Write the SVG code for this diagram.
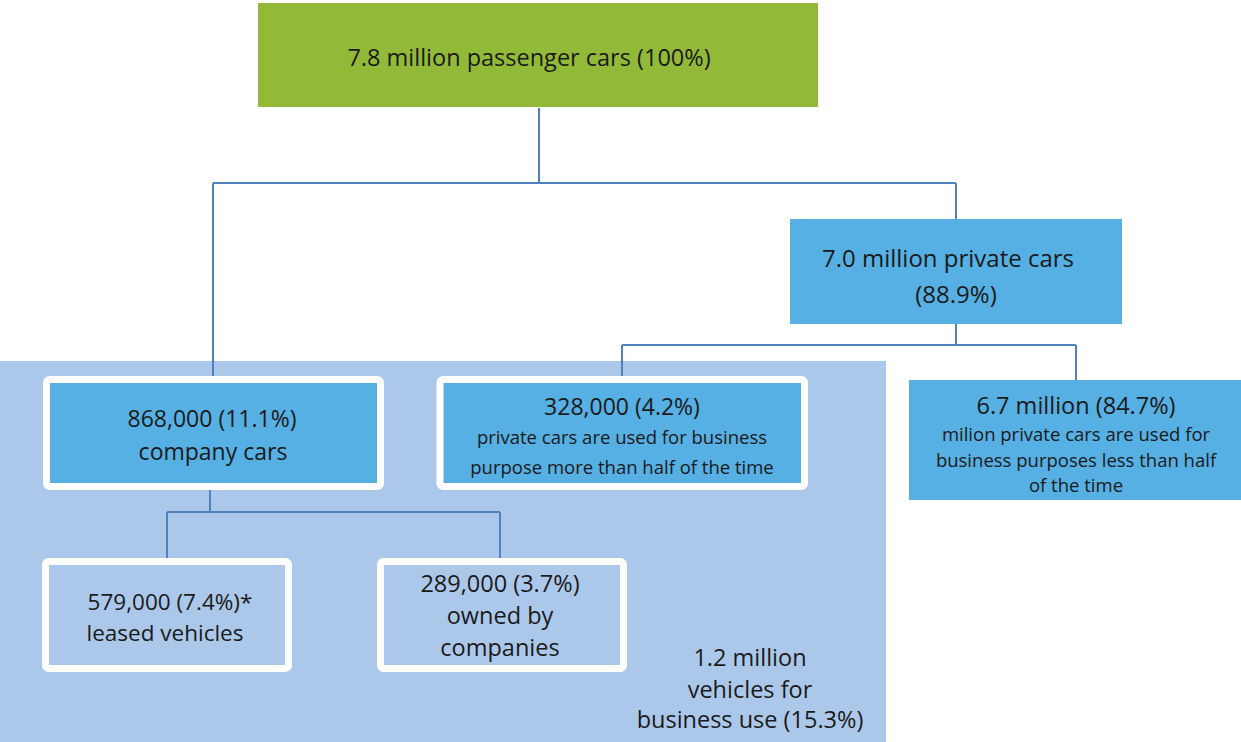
<svg xmlns="http://www.w3.org/2000/svg" width="1241" height="742" viewBox="0 0 1241 742">
<style>
text{font-family:"Open Sans","Liberation Sans",sans-serif;fill:#1a1a1a;text-anchor:middle;dominant-baseline:central}
.blue{fill:#56B0E3}
.wb{fill:#56B0E3;stroke:#ffffff;stroke-width:7;stroke-linejoin:round}
.wl{fill:#ABC8EA;stroke:#ffffff;stroke-width:7;stroke-linejoin:round}
.big{font-size:23px}
.sm{font-size:18.5px}
.cn{font-size:23.5px}
.conn{fill:none;stroke:#4F81BD;stroke-width:2}
</style>
<rect id="business-area" x="0" y="361" width="886" height="381" fill="#ABC8EA"/>
<g id="connectors" class="conn">
<path d="M539 108 V183 M213 183 H956 M213 183 V376 M956 183 V219"/>
<path d="M956 324 V345 M622 345 H1076 M622 345 V376 M1076 345 V380"/>
<path d="M210 490 V512 M167 512 H500 M167 512 V558 M500 512 V558"/>
</g>
<g id="passenger-cars">
<rect x="258" y="3" width="560" height="104" fill="#93B938"/>
<text x="529" y="57" style="font-size:23.5px">7.8 million passenger cars (100%)</text>
</g>
<g id="private-cars">
<rect class="blue" x="790" y="219" width="332" height="105"/>
<text x="948" y="257" style="font-size:24px">7.0 million private cars</text>
<text x="956" y="293" style="font-size:24px">(88.9%)</text>
</g>
<g id="company-cars">
<rect class="wb" x="46.5" y="379.5" width="334" height="107" rx="3"/>
<text class="big" x="212" y="418">868,000 (11.1%)</text>
<text class="big" x="213" y="451">company cars</text>
</g>
<g id="private-more-half">
<rect class="wb" x="440" y="379.5" width="364.5" height="107" rx="3"/>
<text class="big" x="622" y="406">328,000  (4.2%)</text>
<text class="sm" x="622" y="436">private cars are used for business</text>
<text class="sm" x="622" y="466">purpose more than half of the time</text>
</g>
<g id="private-less-half">
<rect class="blue" x="909" y="380" width="332" height="120"/>
<text class="big" x="1076" y="405" style="font-size:23.5px">6.7 million (84.7%)</text>
<text class="sm" x="1076" y="433">milion private cars are used for</text>
<text class="sm" x="1076" y="459">business purposes less than half</text>
<text class="sm" x="1076" y="484">of the time</text>
</g>
<g id="leased">
<rect class="wl" x="45.5" y="561.5" width="243" height="107" rx="3"/>
<text x="170" y="601" style="font-size:22.5px">579,000 (7.4%)*</text>
<text x="165" y="632" style="font-size:22.5px">leased vehicles</text>
</g>
<g id="owned">
<rect class="wl" x="380.5" y="561.5" width="243" height="107" rx="3"/>
<text class="cn" x="500" y="583">289,000 (3.7%)</text>
<text class="cn" x="500" y="615">owned by</text>
<text class="cn" x="500" y="647">companies</text>
</g>
<g id="business-use-label">
<text class="cn" x="750" y="657">1.2 million</text>
<text class="cn" x="750" y="689">vehicles for</text>
<text class="cn" x="750" y="719">business use (15.3%)</text>
</g>
</svg>
